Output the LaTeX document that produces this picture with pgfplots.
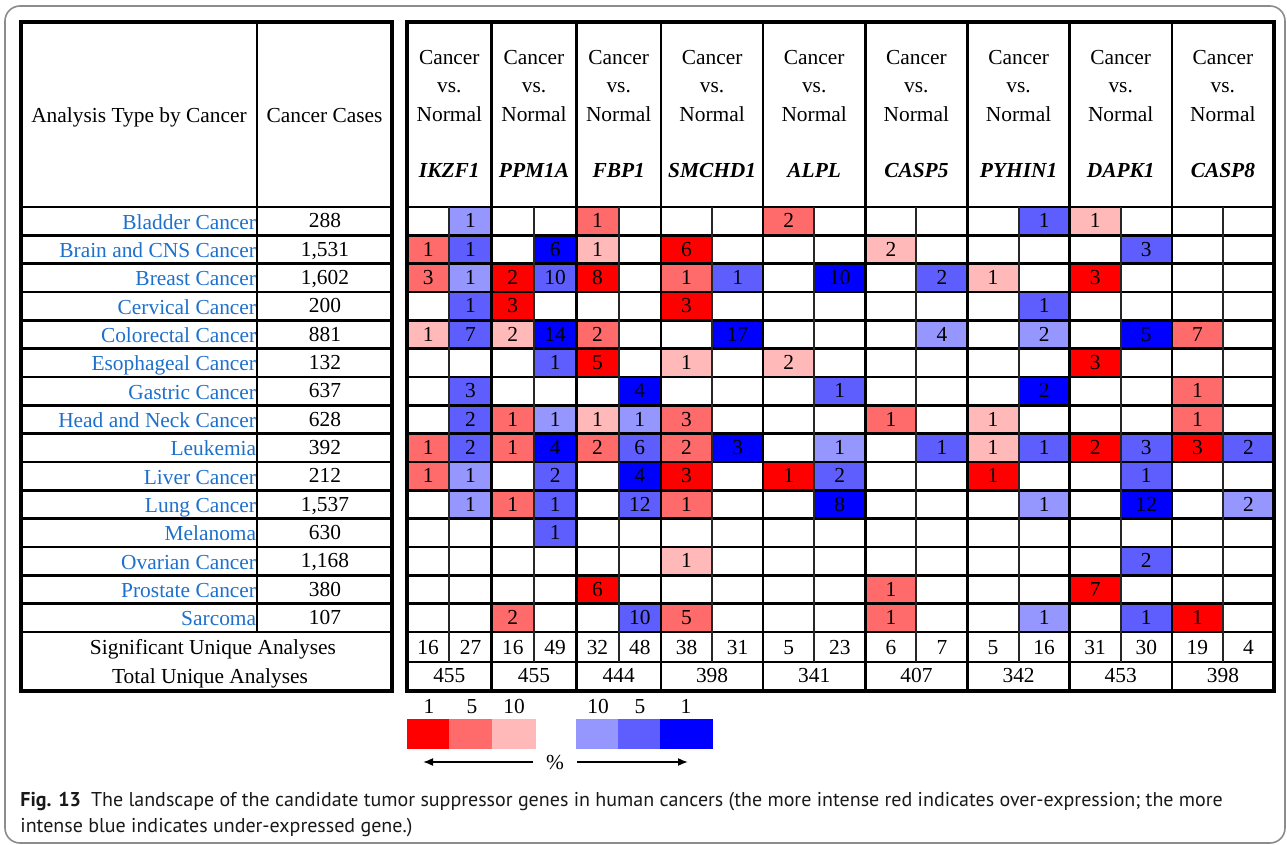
\documentclass[border=0pt]{standalone}
\usepackage{fontspec}
\setmainfont{Liberation Serif}
\newfontfamily\capfont{PT Sans}
\usepackage{pgfplots}
\pgfplotsset{compat=1.18}
\usepackage{pgfplotstable}
\usetikzlibrary{arrows.meta}

\definecolor{rA}{RGB}{255,0,0}
\definecolor{rB}{RGB}{255,106,106}
\definecolor{rC}{RGB}{255,185,185}
\definecolor{bC}{RGB}{150,150,255}
\definecolor{bB}{RGB}{94,94,255}
\definecolor{bA}{RGB}{0,0,255}
\definecolor{nameblue}{RGB}{30,112,205}
\newcommand\tablefont{\fontsize{10.7}{12}\selectfont}

% cell marks: 1 px = 0.5 pt
\pgfdeclareplotmark{cellN}{%
  \pgfpathrectangle{\pgfpoint{-10.583pt}{-7.083pt}}{\pgfpoint{21.167pt}{14.167pt}}%
  \pgfusepathqfill}
\pgfdeclareplotmark{cellW}{%
  \pgfpathrectangle{\pgfpoint{-12.77pt}{-7.083pt}}{\pgfpoint{25.54pt}{14.167pt}}%
  \pgfusepathqfill}

\pgfplotsset{
  numtext/.style={only marks, point meta=explicit symbolic,
    nodes near coords={\pgfplotspointmeta}, nodes near coords align={center},
    every node near coord/.append style={anchor=center, font=\tablefont, text=black,
      inner sep=0pt, text height=0.68em, text depth=0pt}},
}

% Cells: r = cancer row (1 = Bladder ... 15 = Sarcoma),
% c = column (odd: over-expression, even: under-expression of each gene), v = value.
% One table per colour class; n = genes IKZF1, PPM1A, FBP1 (narrow columns), w = others.
\pgfplotstableread{
r c v
3 3 2
3 5 8
4 3 3
6 5 5
14 5 6
}\rAn
\pgfplotstableread{
r c v
2 7 6
3 15 3
4 7 3
6 15 3
9 15 2
9 17 3
10 7 3
10 9 1
10 13 1
14 15 7
15 17 1
}\rAw
\pgfplotstableread{
r c v
1 5 1
2 1 1
3 1 3
5 5 2
8 3 1
9 1 1
9 3 1
9 5 2
10 1 1
11 3 1
15 3 2
}\rBn
\pgfplotstableread{
r c v
1 9 2
3 7 1
5 17 7
7 17 1
8 7 3
8 11 1
8 17 1
9 7 2
11 7 1
14 11 1
15 7 5
15 11 1
}\rBw
\pgfplotstableread{
r c v
2 5 1
5 1 1
5 3 2
8 5 1
}\rCn
\pgfplotstableread{
r c v
1 15 1
2 11 2
3 13 1
6 7 1
6 9 2
8 13 1
9 13 1
13 7 1
}\rCw
\pgfplotstableread{
r c v
2 4 6
5 4 14
7 6 4
9 4 4
10 6 4
}\bAn
\pgfplotstableread{
r c v
3 10 10
5 8 17
5 16 5
7 14 2
9 8 3
11 10 8
11 16 12
}\bAw
\pgfplotstableread{
r c v
2 2 1
3 4 10
4 2 1
5 2 7
6 4 1
7 2 3
8 2 2
9 2 2
9 6 6
10 4 2
11 4 1
11 6 12
12 4 1
15 6 10
}\bBn
\pgfplotstableread{
r c v
1 14 1
2 16 3
3 8 1
3 12 2
4 14 1
7 10 1
9 12 1
9 14 1
9 16 3
9 18 2
10 10 2
10 16 1
13 16 2
15 16 1
}\bBw
\pgfplotstableread{
r c v
1 2 1
3 2 1
8 4 1
8 6 1
10 2 1
11 2 1
}\bCn
\pgfplotstableread{
r c v
5 12 4
5 14 2
9 10 1
11 14 1
11 18 2
15 14 1
}\bCw

\pgfplotstableread{
r n
1 288
2 1,531
3 1,602
4 200
5 881
6 132
7 637
8 628
9 392
10 212
11 1,537
12 630
13 1,168
14 380
15 107
}\cases

\pgfplotstableread{
c v
1 16
2 27
3 16
4 49
5 32
6 48
7 38
8 31
9 5
10 23
11 6
12 7
13 5
14 16
15 31
16 30
17 19
18 4
}\sig

\pgfplotstableread{
g v
1 455
2 455
3 444
4 398
5 341
6 407
7 342
8 453
9 398
}\total

\newcommand\cellplot[3]{% table, colour, mark
  \addplot[numtext, mark=#3, mark options={fill=#2}]
    table[x expr={\thisrow{c}<=6 ? 407+42.33*(\thisrow{c}-0.5) : 661+51.08*(\thisrow{c}-6.5)},
          y expr={207+28.33*(\thisrow{r}-0.5)}, meta=v] {#1};}

\begin{document}
\begin{tikzpicture}
\useasboundingbox (0,0) rectangle (643.5pt,-422.5pt);
\begin{axis}[at={(0,0)}, anchor=north west, scale only axis,
  width=643.5pt, height=422.5pt,
  xmin=0, xmax=1287, ymin=0, ymax=845, y dir=reverse,
  hide axis, clip=false]

\cellplot{\rAn}{rA}{cellN}
\cellplot{\rAw}{rA}{cellW}
\cellplot{\rBn}{rB}{cellN}
\cellplot{\rBw}{rB}{cellW}
\cellplot{\rCn}{rC}{cellN}
\cellplot{\rCw}{rC}{cellW}
\cellplot{\bAn}{bA}{cellN}
\cellplot{\bAw}{bA}{cellW}
\cellplot{\bBn}{bB}{cellN}
\cellplot{\bBw}{bB}{cellW}
\cellplot{\bCn}{bC}{cellN}
\cellplot{\bCw}{bC}{cellW}

\addplot[numtext, mark=none] table[x expr={325}, y expr={207+28.33*(\thisrow{r}-0.5)}, meta=n] {\cases};
\addplot[numtext, mark=none] table[x expr={\thisrow{c}<=6 ? 407+42.33*(\thisrow{c}-0.5) : 661+51.08*(\thisrow{c}-6.5)},
        y expr={648}, meta=v] {\sig};
\addplot[numtext, mark=none] table[x expr={\thisrow{g}<=3 ? 407+84.67*(\thisrow{g}-0.5) : 661+102.17*(\thisrow{g}-3.5)},
        y expr={676}, meta=v] {\total};
\end{axis}

\begin{scope}[x=0.5pt, y=-0.5pt]
  % outer frame
  \draw[black!45, line width=0.8pt, rounded corners=7.5pt] (5,6) rectangle (1285,843);
  % ---------- left block ----------
  \foreach \k in {1,...,15} {\draw[line width=1.3pt] (21,{207+28.33*\k}) -- (392,{207+28.33*\k});}
  \draw[line width=1.3pt] (21,207) -- (392,207);
  \draw[line width=1.3pt] (257,22) -- (257,632);
  \draw[line width=1.6pt] (21,22) rectangle (392,691);
  % ---------- right block ----------
  \foreach \k in {1,...,15} {\draw[line width=1.3pt] (407,{207+28.33*\k}) -- (1274,{207+28.33*\k});}
  \draw[line width=1.3pt] (407,207) -- (1274,207);
  \draw[line width=1.3pt] (407,662) -- (1274,662);
  \foreach \k in {1,3,5} {\draw[line width=1.0pt, black!85] ({407+42.33*\k},207) -- ({407+42.33*\k},662);}
  \foreach \k in {1,3,...,11} {\draw[line width=1.0pt, black!85] ({661+51.08*\k},207) -- ({661+51.08*\k},662);}
  \foreach \x in {491.67,576.33,661,763.17,865.33,967.5,1069.67,1171.83} {\draw[line width=1.3pt] (\x,22) -- (\x,691);}
  \draw[line width=1.6pt] (407,22) rectangle (1274,691);
  % ---------- headers ----------
  \node[anchor=base, inner sep=0pt, font=\tablefont] at (139,123) {Analysis Type by Cancer};
  \node[anchor=base, inner sep=0pt, font=\tablefont] at (324.5,123) {Cancer Cases};
  \foreach \x/\g in {449.3/IKZF1, 534/PPM1A, 618.7/FBP1, 712.1/SMCHD1, 814.2/ALPL,
                     916.4/CASP5, 1018.6/PYHIN1, 1120.7/DAPK1, 1222.9/CASP8} {
    \node[anchor=base, inner sep=0pt, font=\tablefont] at (\x,65) {Cancer};
    \node[anchor=base, inner sep=0pt, font=\tablefont] at (\x,92.5) {vs.};
    \node[anchor=base, inner sep=0pt, font=\tablefont] at (\x,121.5) {Normal};
    \node[anchor=base, inner sep=0pt, font=\tablefont\bfseries\itshape] at (\x,177.5) {\g};
  }
  % ---------- cancer names ----------
  \foreach \n [count=\i] in {Bladder Cancer, Brain and CNS Cancer, Breast Cancer, Cervical Cancer,
      Colorectal Cancer, Esophageal Cancer, Gastric Cancer, Head and Neck Cancer, Leukemia,
      Liver Cancer, Lung Cancer, Melanoma, Ovarian Cancer, Prostate Cancer, Sarcoma} {
    \node[anchor=base east, inner sep=0pt, font=\tablefont, text=nameblue] at (256.5,{207+28.33*(\i-0.5)+8}) {\n};
  }
  \node[anchor=base, inner sep=0pt, font=\tablefont] at (213,654.5) {Significant Unique Analyses};
  \node[anchor=base, inner sep=0pt, font=\tablefont] at (210,683) {Total Unique Analyses};
  % ---------- legend ----------
  \fill[rA] (407,719) rectangle (449,749);
  \fill[rB] (449,719) rectangle (492,749);
  \fill[rC] (492,719) rectangle (536,749);
  \fill[bC] (576,719) rectangle (618,749);
  \fill[bB] (618,719) rectangle (660,749);
  \fill[bA] (660,719) rectangle (713,749);
  \foreach \x/\t in {429/1, 472/5, 514/10, 598/10, 640/5, 686/1} {
    \node[anchor=base, inner sep=0pt, font=\tablefont] at (\x,713) {\t};
  }
  \draw[line width=0.8pt, -{Latex[length=5pt,width=4pt]}] (533,762) -- (423,762);
  \draw[line width=0.8pt, -{Latex[length=5pt,width=4pt]}] (577,762) -- (688,762);
  \node[anchor=base, inner sep=0pt, font=\tablefont] at (555,769) {\%};
  % ---------- caption ----------
  \node[anchor=base west, inner sep=0pt, font=\capfont\fontsize{10}{12}\selectfont, text=black!90] at (20,806)
    {\textbf{Fig. 13}\hspace{0.5em}The landscape of the candidate tumor suppressor genes in human cancers (the more intense red indicates over-expression; the more};
  \node[anchor=base west, inner sep=0pt, font=\capfont\fontsize{10}{12}\selectfont, text=black!90] at (20,832)
    {intense blue indicates under-expressed gene.)};
\end{scope}
\end{tikzpicture}
\end{document}
